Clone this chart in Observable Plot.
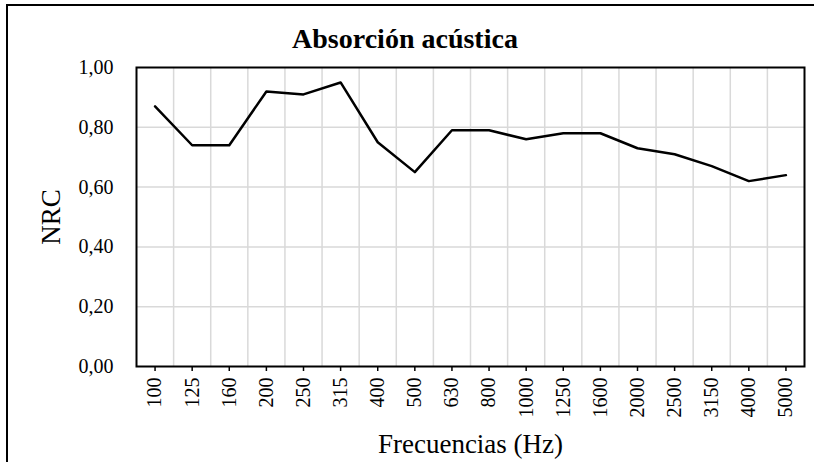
<!DOCTYPE html>
<html>
<head>
<meta charset="utf-8">
<script src="https://cdn.jsdelivr.net/npm/d3@7"></script>
<script src="https://cdn.jsdelivr.net/npm/@observablehq/plot@0.6"></script>
<style>
  html, body { margin: 0; padding: 0; background: #fff; overflow: hidden; }
  #wrap { position: relative; width: 814px; height: 462px; font-family: "Liberation Serif", serif; }
  #border { position: absolute; left: 6px; top: 4px; width: 820px; height: 470px;
            border-top: 2px solid #000; border-left: 2px solid #000; pointer-events: none; }
  #title { position: absolute; left: 0; top: 25px; width: 810px; text-align: center;
           font-size: 28px; font-weight: bold; line-height: 28px; color: #000; }
  #chart { position: absolute; left: 0; top: 0; }
</style>
</head>
<body>
<div id="wrap">
  <div id="chart"></div>
  <div id="border"></div>
  <div id="title">Absorción acústica</div>
</div>
<script>
const frequencies = ["100","125","160","200","250","315","400","500","630","800","1000","1250","1600","2000","2500","3150","4000","5000"];
const nrc = [0.87,0.74,0.74,0.92,0.91,0.95,0.75,0.65,0.79,0.79,0.76,0.78,0.78,0.73,0.71,0.67,0.62,0.64];
const yTicks = [0, 0.2, 0.4, 0.6, 0.8, 1.0];

const data = frequencies.map((f, i) => ({i, f, v: nrc[i]}));
const boundaries = frequencies.slice(1).map((_, i) => i + 0.5);
const fmt = d => d.toFixed(2).replace(".", ",");

const chart = Plot.plot({
  width: 814,
  height: 462,
  marginLeft: 136,
  marginRight: 10,
  marginTop: 67,
  marginBottom: 96,
  style: {fontFamily: "Liberation Serif, serif", background: "transparent", color: "#000"},
  x: {domain: [-0.5, frequencies.length - 0.5]},
  y: {domain: [0, 1]},
  marks: [
    Plot.gridX(boundaries, {stroke: "#d9d9d9", strokeOpacity: 1, strokeWidth: 1.5}),
    Plot.gridY(yTicks.slice(1, -1), {stroke: "#d9d9d9", strokeOpacity: 1, strokeWidth: 1.5}),
    Plot.axisY(yTicks, {
      tickSize: 0, tickPadding: 23, tickFormat: fmt, fontSize: 20,
      label: "NRC", labelAnchor: "center", labelOffset: 96, labelArrow: "none"
    }),
    Plot.axisX(data.map(d => d.i), {
      tickSize: 5, tickPadding: 6, tickRotate: -90, fontSize: 20, stroke: "#000", strokeWidth: 1.5,
      tickFormat: i => frequencies[i],
      label: "Frecuencias (Hz)", labelAnchor: "center", labelOffset: 86, labelArrow: "none"
    }),
    Plot.line(data, {x: "i", y: "v", stroke: "#000", strokeWidth: 2.5}),
    Plot.frame({stroke: "#000", strokeWidth: 2})
  ]
});
// axis label font sizes
chart.querySelectorAll("g[aria-label='y-axis label'] text, g[aria-label='x-axis label'] text").forEach(t => {
  t.setAttribute("font-size", 27);
});
document.getElementById("chart").appendChild(chart);
</script>
</body>
</html>
